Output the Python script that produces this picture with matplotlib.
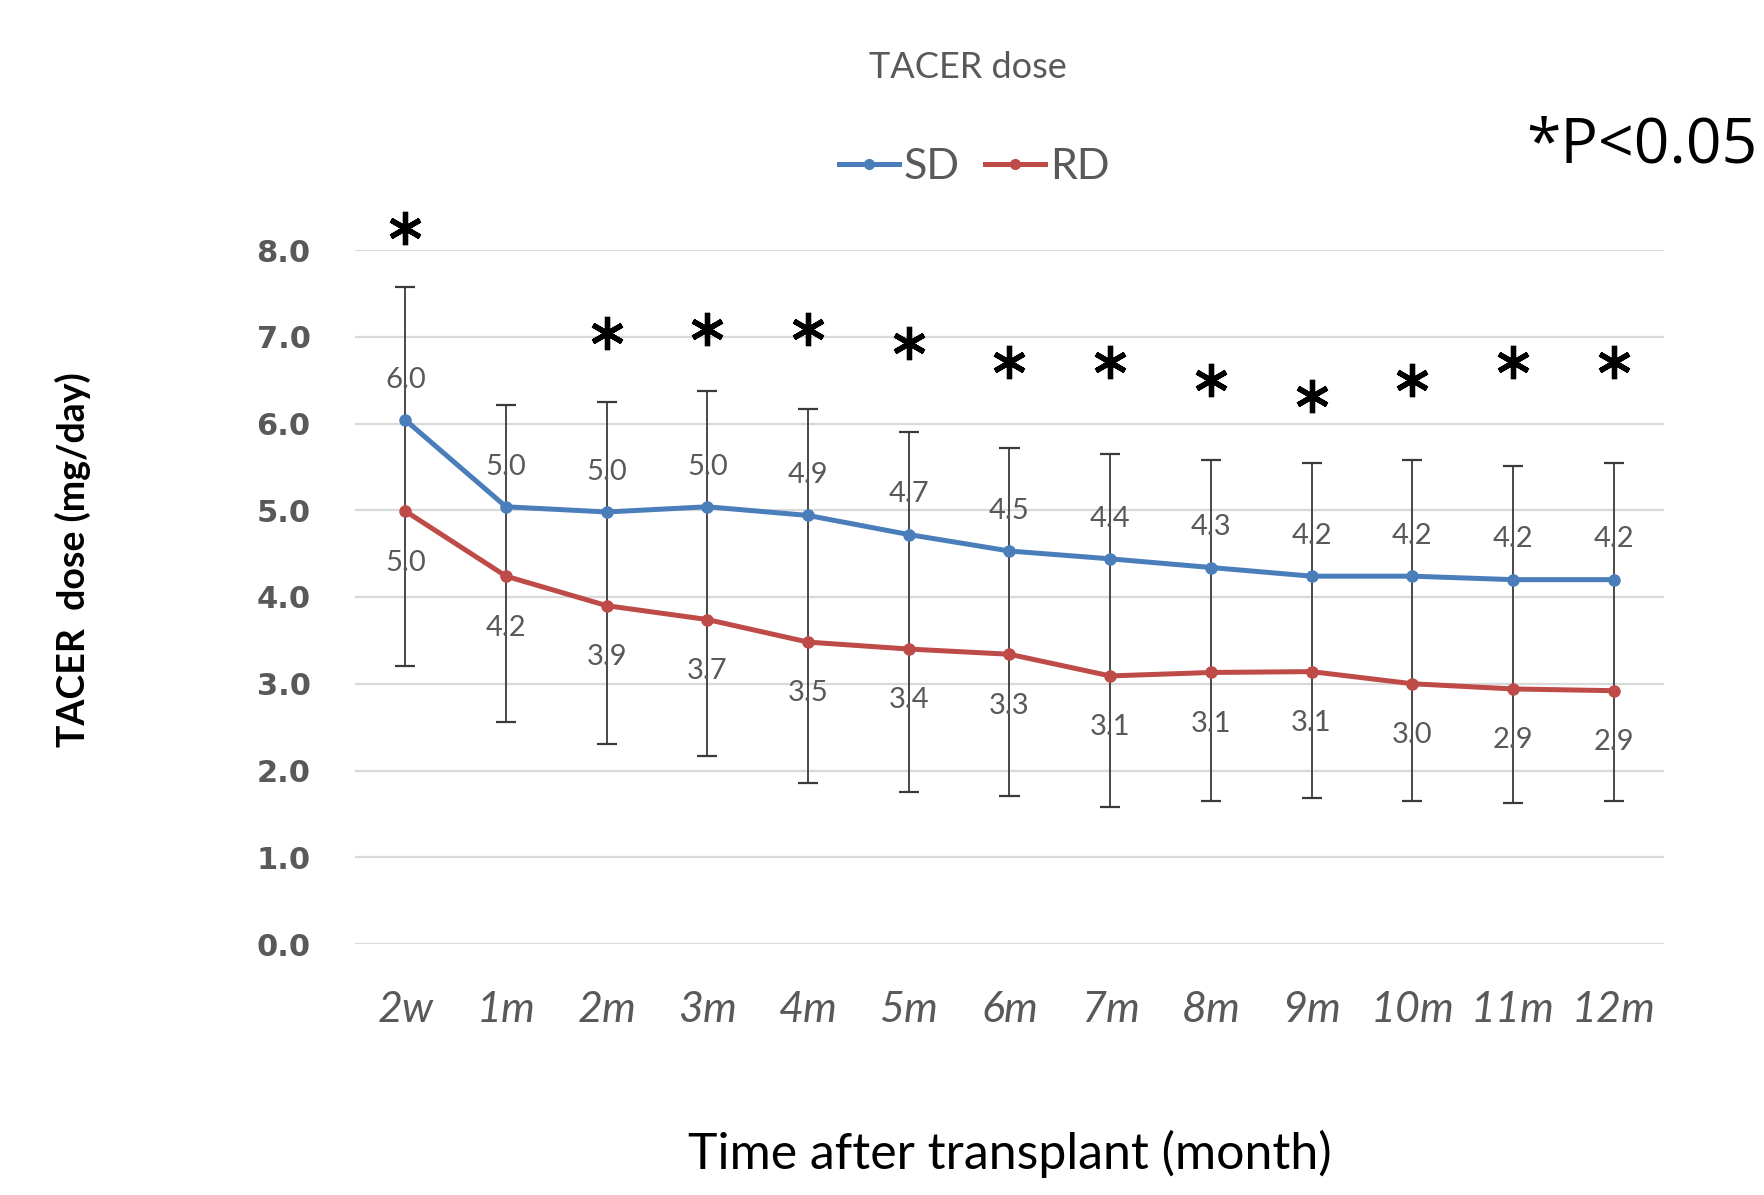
import matplotlib
matplotlib.use("Agg")
import matplotlib.pyplot as plt
from matplotlib.lines import Line2D
import numpy as np

# ---- data ----
categories = ["2w", "1m", "2m", "3m", "4m", "5m", "6m", "7m", "8m", "9m", "10m", "11m", "12m"]
sd_mean = [6.04, 5.04, 4.98, 5.04, 4.94, 4.72, 4.53, 4.44, 4.34, 4.24, 4.24, 4.20, 4.20]
sd_err_plus = [1.53, 1.17, 1.27, 1.34, 1.23, 1.18, 1.19, 1.21, 1.24, 1.31, 1.34, 1.31, 1.35]
rd_mean = [4.99, 4.24, 3.90, 3.74, 3.48, 3.40, 3.34, 3.09, 3.13, 3.14, 3.00, 2.94, 2.92]
rd_err_minus = [1.78, 1.68, 1.60, 1.57, 1.62, 1.65, 1.63, 1.51, 1.48, 1.46, 1.35, 1.32, 1.27]
sig_flags = [True, False, True, True, True, True, True, True, True, True, True, True, True]
sig_y = [8.25, 0, 7.04, 7.09, 7.09, 6.93, 6.71, 6.71, 6.50, 6.32, 6.50, 6.71, 6.71]
yticks = [0, 1, 2, 3, 4, 5, 6, 7, 8]

BLUE = "#4A7EBB"
RED = "#BE4B48"
GRAY = "#595959"
W, H = 1765, 1195

fig = plt.figure(figsize=(W / 100, H / 100), dpi=100)
ax = fig.add_axes([355 / W, 1 - 944 / H, (1664 - 355) / W, (944 - 250) / H])

x = np.arange(len(categories))
sd = np.array(sd_mean)
rd = np.array(rd_mean)
top = sd + np.array(sd_err_plus)
bot = rd - np.array(rd_err_minus)

# error bars (SD plus, RD minus), joined
ax.vlines(x, bot, top, color="#3a3a3a", lw=1.3, zorder=2)
cap = 0.1
ax.hlines(top, x - cap, x + cap, color="#3a3a3a", lw=1.6, zorder=2)
ax.hlines(bot, x - cap, x + cap, color="#3a3a3a", lw=1.6, zorder=2)

ax.plot(x, sd, color=BLUE, lw=3.6, marker="o", ms=8, zorder=3)
ax.plot(x, rd, color=RED, lw=3.6, marker="o", ms=8, zorder=3)

for xi, v in zip(x, sd):
    ax.annotate(f"{v:.1f}", (xi, v), xytext=(0, 29), textcoords="offset points",
                ha="center", va="center", fontsize=21, color=GRAY, family="Lato")
for xi, v in zip(x, rd):
    ax.annotate(f"{v:.1f}", (xi, v), xytext=(0, -37), textcoords="offset points",
                ha="center", va="center", fontsize=21, color=GRAY, family="Lato")

sx = [xi for xi, f in zip(x, sig_flags) if f]
sy = [yv for yv, f in zip(sig_y, sig_flags) if f]
ax.plot(sx, sy, linestyle="none", marker=(6, 2, 0), ms=24, mew=3.8, color="black",
        clip_on=False, zorder=4)

ax.set_xlim(-0.5, len(categories) - 0.5)
ax.set_ylim(0, 8)
ax.set_yticks(yticks)
ax.set_yticklabels([f"{t:.1f}" for t in yticks], fontsize=22, fontweight="bold",
                   color=GRAY, family="DejaVu Sans")
ax.set_xticks(x)
ax.set_xticklabels(categories, fontsize=31, style="italic", color=GRAY, family="Lato")
ax.tick_params(axis="y", length=0, pad=32)
ax.tick_params(axis="x", length=0, pad=34)
ax.grid(axis="y", color="#D9D9D9", lw=1.6)
ax.set_axisbelow(True)
for s in ax.spines.values():
    s.set_visible(False)

ax.set_xlabel("Time after transplant (month)", fontsize=36, family="Lato", color="black",
              labelpad=0)
ax.xaxis.set_label_coords(0.5, -(1154 - 944) / (944 - 250), transform=ax.transAxes)
ax.set_ylabel("TACER  dose (mg/day)", fontsize=27, family="Lato", fontweight="bold",
              color="black")
ax.yaxis.set_label_coords(-(355 - 73) / (1664 - 355), 1 - (560 - 250) / (944 - 250),
                          transform=ax.transAxes)
ax.yaxis.label.set_va("center")
ax.xaxis.label.set_va("center")

fig.text(968 / W, 1 - 67 / H, "TACER dose", fontsize=26, color=GRAY, family="Lato",
         ha="center", va="center")
fig.text(1758 / W, 1 - 146 / H, "*P<0.05", fontsize=45, color="black", family="Open Sans",
         ha="right", va="center")

handles = [Line2D([], [], color=BLUE, lw=3.6, marker="o", ms=7),
           Line2D([], [], color=RED, lw=3.6, marker="o", ms=7)]
leg = fig.legend(handles, ["SD", "RD"], loc="center", bbox_to_anchor=(974 / W, 1 - 167 / H),
                 ncol=2, frameon=False, prop={"family": "Lato", "size": 31},
                 handlelength=1.4, handletextpad=0.1, columnspacing=0.6)
for t in leg.get_texts():
    t.set_color(GRAY)

fig.savefig("out.png", dpi=100, facecolor="white")
